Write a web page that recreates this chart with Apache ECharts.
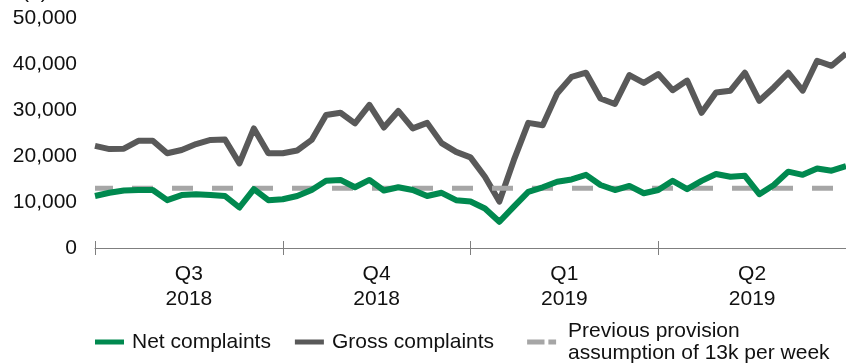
<!DOCTYPE html>
<html>
<head>
<meta charset="utf-8">
<script src="https://cdn.jsdelivr.net/npm/echarts@6/dist/echarts.min.js"></script>
<style>
    html, body { margin: 0; padding: 0; background: #fff; }
    #chart { width: 846px; height: 364px; }
</style>
</head>
<body>
<div id="chart"></div>
<script>
// weekly complaints, Q3 2018 - Q2 2019
const weeks = ['W1', 'W2', 'W3', 'W4', 'W5', 'W6', 'W7', 'W8', 'W9', 'W10', 'W11', 'W12', 'W13',
    'W14', 'W15', 'W16', 'W17', 'W18', 'W19', 'W20', 'W21', 'W22', 'W23', 'W24', 'W25', 'W26',
    'W27', 'W28', 'W29', 'W30', 'W31', 'W32', 'W33', 'W34', 'W35', 'W36', 'W37', 'W38', 'W39',
    'W40', 'W41', 'W42', 'W43', 'W44', 'W45', 'W46', 'W47', 'W48', 'W49', 'W50', 'W51', 'W52', 'W53'];
const quarters = ['Q3\n2018', 'Q4\n2018', 'Q1\n2019', 'Q2\n2019'];
const netComplaints = [
    11300, 12000, 12500, 12600, 12600, 10400, 11500, 11700, 11500, 11300, 8800, 12800, 10400,
    10600, 11300, 12600, 14600, 14800, 13200, 14800, 12500, 13200, 12600, 11300, 12000, 10400,
    10100, 8600, 5700, 9000, 12200, 13200, 14400, 14900, 15900, 13700, 12600, 13500, 11900,
    12600, 14600, 12800, 14600, 16100, 15500, 15700, 11700, 13700, 16600, 15900, 17300, 16800, 17800
];
const grossComplaints = [
    22200, 21500, 21600, 23300, 23300, 20600, 21300, 22600, 23500, 23600, 18400, 26000, 20600,
    20600, 21200, 23500, 28900, 29400, 27100, 31100, 26200, 29800, 26000, 27200, 22800, 20900,
    19700, 15500, 10100, 19100, 27200, 26700, 33600, 37200, 38100, 32500, 31300, 37600, 35900,
    37800, 34300, 36400, 29400, 33800, 34200, 38100, 32000, 34900, 38100, 34200, 40700, 39600, 42300
];
const provisionLevel = 13000;
const provisionSpan = [weeks[0], weeks[weeks.length - 1]];
const yTicks = [0, 10000, 20000, 30000, 40000, 50000];

const NET = 'Net complaints';
const GROSS = 'Gross complaints';
const PROVISION = 'Previous provision\nassumption of 13k per week';

const font = '"Liberation Sans", Arial, sans-serif';
const myEcharts = echarts.init(document.getElementById('chart'), null, { renderer: 'canvas' });

const quarterAxis = {
    type: 'category',
    position: 'bottom',
    offset: 0,
    boundaryGap: true,
    data: quarters
};

const option = {
    animation: false,
    textStyle: { fontFamily: font },
    grid: {
        left: 95,
        right: 0,
        top: 18,
        bottom: 116
    },
    graphic: [{
        // axis unit, mostly cut off at the top edge
        type: 'text',
        left: 22,
        top: -18,
        style: { text: '(#)', fontSize: 21, fontFamily: font, fill: '#111' }
    }],
    legend: {
        left: 90,
        top: 315,
        itemWidth: 29,
        itemHeight: 5,
        itemGap: 24,
        textStyle: {
            fontSize: 21,
            lineHeight: 22,
            color: '#111',
            padding: [0, 0, 0, 3]
        },
        data: [
            { name: NET, icon: 'rect' },
            { name: GROSS, icon: 'rect', textStyle: { padding: [0, 9, 0, 3] } },
            { name: PROVISION, icon: 'path://M0,0h18v5h-18z M22,0h8v5h-8z', textStyle: { padding: [0, 0, 0, 7] } }
        ]
    },
    xAxis: [{
        type: 'category',
        show: false,
        boundaryGap: false,
        data: weeks
    }, Object.assign({}, quarterAxis, {
        axisLine: { show: true, lineStyle: { color: '#7f7f7f', width: 1 } },
        axisTick: { show: true, length: 7, lineStyle: { color: '#7f7f7f' } },
        axisLabel: {
            fontSize: 21,
            lineHeight: 25,
            margin: 14,
            color: '#111'
        }
    }), Object.assign({}, quarterAxis, {
        axisLine: { show: false },
        axisTick: { show: true, inside: true, length: 7, lineStyle: { color: '#7f7f7f' } },
        axisLabel: { show: false }
    })],
    yAxis: {
        type: 'value',
        min: yTicks[0],
        max: yTicks[yTicks.length - 1],
        interval: yTicks[1] - yTicks[0],
        axisLine: { show: false },
        axisTick: { show: false },
        splitLine: { show: false },
        axisLabel: {
            fontSize: 21,
            margin: 18,
            color: '#111',
            formatter: v => v.toLocaleString('en-US')
        }
    },
    series: [{
        name: GROSS,
        type: 'line',
        symbol: 'none',
        color: '#595959',
        lineStyle: { width: 6, color: '#595959', join: 'round' },
        data: grossComplaints
    }, {
        name: PROVISION,
        type: 'line',
        symbol: 'none',
        color: '#a6a6a6',
        lineStyle: {
            width: 5,
            color: '#a6a6a6',
            type: [21, 19],
            dashOffset: 3,
            cap: 'butt'
        },
        data: [[provisionSpan[0], provisionLevel], [provisionSpan[1], provisionLevel]]
    }, {
        name: NET,
        type: 'line',
        symbol: 'none',
        color: '#00894f',
        lineStyle: { width: 6, color: '#00894f', join: 'round' },
        data: netComplaints
    }]
};

myEcharts.setOption(option);
</script>
</body>
</html>
